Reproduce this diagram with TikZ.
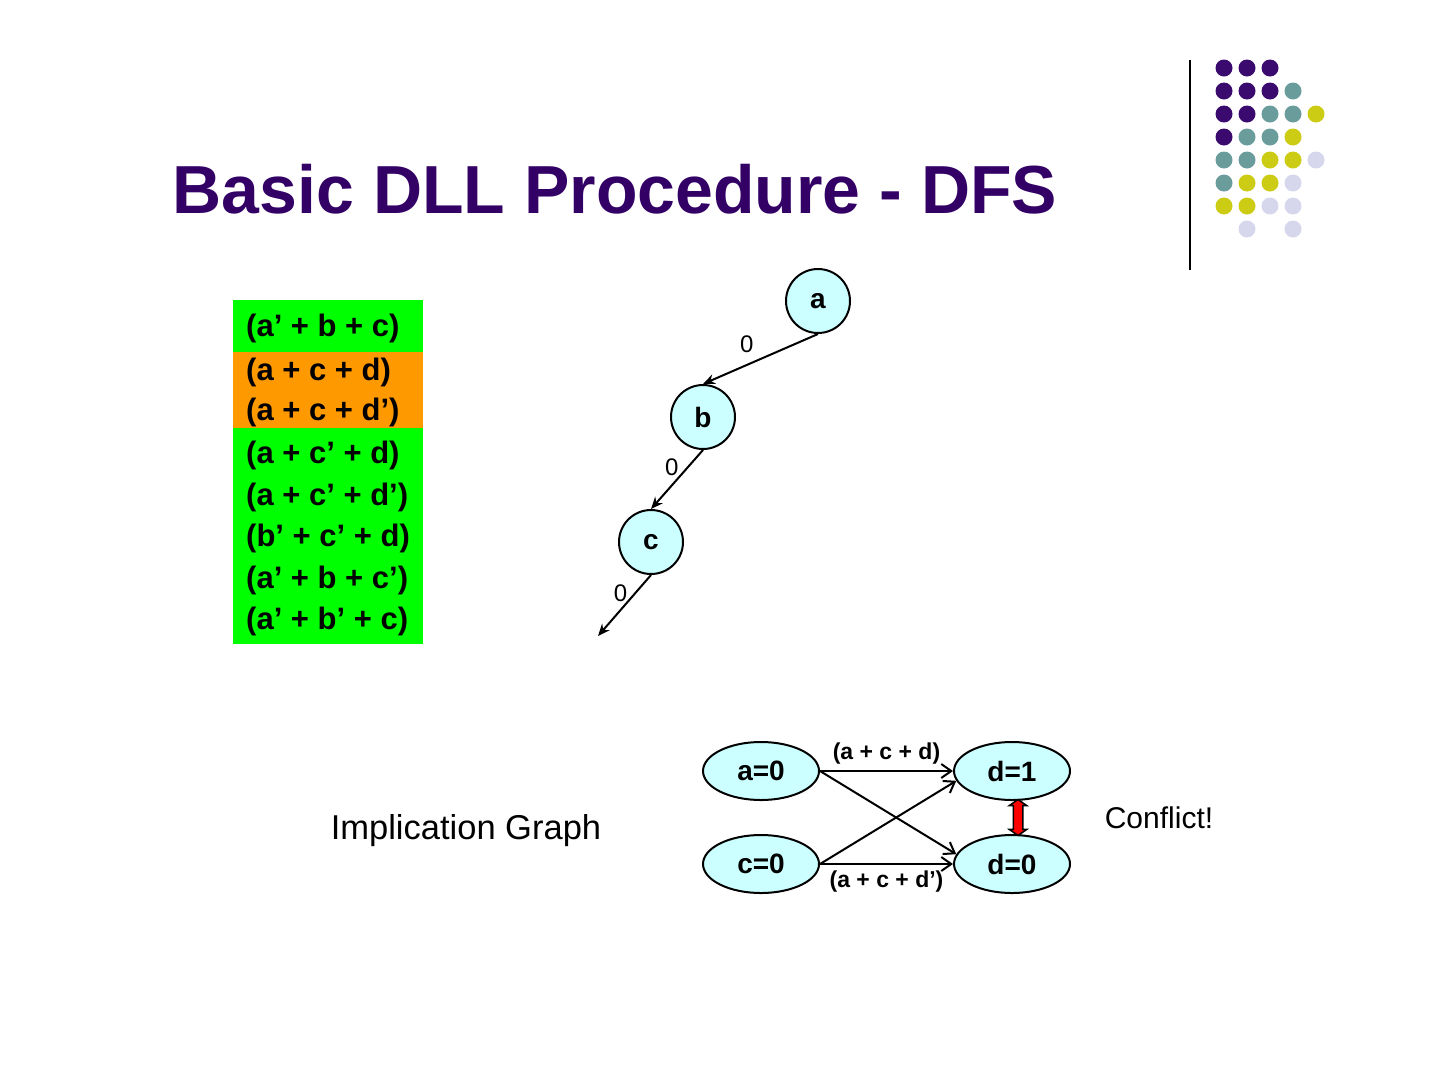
\documentclass[tikz,border=0pt]{standalone}
\usepackage{fontspec}
\setmainfont{Liberation Sans}
\usepackage{tikz}
\usetikzlibrary{arrows.meta, positioning, calc, shapes.geometric, shapes.arrows}
\usepackage{xcolor}
\definecolor{titlePurple}{HTML}{330066}
\definecolor{clauseGreen}{HTML}{00FF00}
\definecolor{clauseOrange}{HTML}{FF9900}
\definecolor{nodeCyan}{HTML}{CCFFFF}
\definecolor{dotPurple}{HTML}{3B0A6E}
\definecolor{dotTeal}{HTML}{6A9C9C}
\definecolor{dotYellow}{HTML}{CCCC14}
\definecolor{dotLilac}{HTML}{D6D6EC}

\begin{document}
\begin{tikzpicture}[x=1pt, y=-1pt,
      every node/.style={inner sep=0pt},
      clause/.style={anchor=west, font=\fontsize{31}{31}\selectfont\bfseries},
      vertex/.style={draw, circle, fill=nodeCyan, minimum size=64pt, line width=2pt,
                     font=\fontsize{28}{28}\selectfont\bfseries},
      literal/.style={draw, ellipse, fill=nodeCyan, minimum width=116pt, line width=2pt,
                      minimum height=58pt, font=\fontsize{28}{28}\selectfont\bfseries},
      branch/.style={-{Stealth[length=12pt, width=10pt]}, line width=2pt},
      implies/.style={-{Straight Barb[length=10pt, width=14pt]}, line width=2pt},
      edgelabel/.style={font=\fontsize{23}{23}\selectfont\bfseries},
      zero/.style={font=\fontsize{24}{24}\selectfont},
    ]
  \useasboundingbox (0,0) rectangle (1440,1080);

  % title and corner decoration
  \node[font=\fontsize{68}{68}\selectfont\bfseries, text=titlePurple] (title)
    at (615,189) {Basic DLL Procedure - DFS};
  \draw[line width=2pt] (1190,60) -- (1190,270);
  \foreach \cx/\cy/\col in {
      1224/68/dotPurple, 1247/68/dotPurple, 1270/68/dotPurple,
      1224/91/dotPurple, 1247/91/dotPurple, 1270/91/dotPurple, 1293/91/dotTeal,
      1224/114/dotPurple, 1247/114/dotPurple, 1270/114/dotTeal, 1293/114/dotTeal, 1316/114/dotYellow,
      1224/137/dotPurple, 1247/137/dotTeal, 1270/137/dotTeal, 1293/137/dotYellow,
      1224/160/dotTeal, 1247/160/dotTeal, 1270/160/dotYellow, 1293/160/dotYellow, 1316/160/dotLilac,
      1224/183/dotTeal, 1247/183/dotYellow, 1270/183/dotYellow, 1293/183/dotLilac,
      1224/206/dotYellow, 1247/206/dotYellow, 1270/206/dotLilac, 1293/206/dotLilac,
      1247/229/dotLilac, 1293/229/dotLilac}
    \fill[\col] (\cx,\cy) circle (8.5pt);

  % clause database
  \fill[clauseGreen]  (233,300) rectangle (423,644);
  \fill[clauseOrange] (233,352) rectangle (423,428);
  \node[clause] (c1) at (246,328) {(a’ + b + c)};
  \node[clause] (c2) at (246,372) {(a + c + d)};
  \node[clause] (c3) at (246,412) {(a + c + d’)};
  \node[clause] (c4) at (246,455) {(a + c’ + d)};
  \node[clause] (c5) at (246,497) {(a + c’ + d’)};
  \node[clause] (c6) at (246,538) {(b’ + c’ + d)};
  \node[clause] (c7) at (246,580) {(a’ + b + c’)};
  \node[clause] (c8) at (246,621) {(a’ + b’ + c)};

  % decision tree
  \node[vertex] (a) at (818,301) {a};
  \node[vertex] (b) at (703,417) {b};
  \node[vertex] (c) at (651,542) {c};
  \coordinate (next) at (598,636);
  \draw[branch] (a.south) -- (b.north)
    node[pos=0.5, above left=5pt and 6pt, zero] {0};
  \draw[branch] (b.south) -- (c.north)
    node[pos=0.3, left=8pt, zero] {0};
  \draw[branch] (c.south) -- (next)
    node[pos=0.3, left=7pt, zero] {0};

  % implication graph
  \node[font=\fontsize{34.5}{34.5}\selectfont] (igraph) at (466,831) {Implication Graph};
  \node[literal] (a0) at (761,771) {a=0};
  \node[literal] (c0) at (761,864) {c=0};
  \node[literal] (d1) at (1012,771) {d=1};
  \node[literal] (d0) at (1012,864) {d=0};
  \draw[implies] (a0.east) -- (d1.west)
    node[midway, above=6pt, edgelabel] {(a + c + d)};
  \draw[implies] (c0.east) -- (d0.west)
    node[midway, below=6pt, edgelabel] {(a + c + d’)};
  \draw[implies] (a0.east) -- (d0.170);
  \draw[implies] (c0.east) -- (d1.190);
  \node[double arrow, draw, fill=red, line width=1.5pt, shape border rotate=90,
        inner sep=4pt, minimum height=36pt, double arrow head extend=4pt,
        double arrow tip angle=110]
    (clash) at ($(d1.south)!0.5!(d0.north)+(6,0)$) {};
  \node[font=\fontsize{30}{30}\selectfont] (conflict) at (1159,818) {Conflict!};
\end{tikzpicture}
\end{document}
